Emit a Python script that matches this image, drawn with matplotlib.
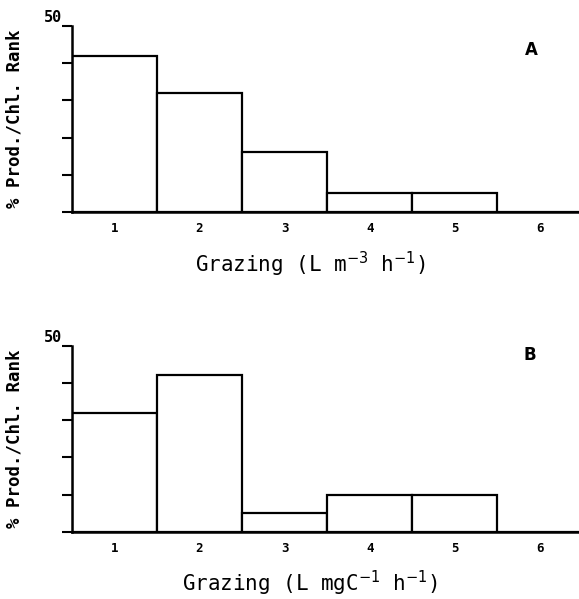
import matplotlib
matplotlib.use("Agg")
import matplotlib.pyplot as plt

categories = [1, 2, 3, 4, 5, 6]
tick_labels = ["1", "2", "3", "4", "5", "6"]
values_a = [42, 32, 16, 5, 5, 0]
values_b = [32, 42, 5, 10, 10, 0]
xlabel_a = "Grazing (L m$^{-3}$ h$^{-1}$)"
xlabel_b = "Grazing (L mgC$^{-1}$ h$^{-1}$)"
ylabel = "% Prod./Chl. Rank"
panel_labels = ["A", "B"]

mono = "DejaVu Sans Mono"
fig = plt.figure(figsize=(5.79, 5.99), dpi=100)
axes_rects = [[0.124, 0.646, 0.876, 0.311], [0.124, 0.112, 0.876, 0.311]]
label_pos = [(0.907, 0.87), (0.903, 0.95)]

for rect, vals, xl, pl, lp in zip(axes_rects, [values_a, values_b], [xlabel_a, xlabel_b],
                                  panel_labels, label_pos):
    ax = fig.add_axes(rect)
    ax.bar(categories, vals, width=1.0, facecolor="white", edgecolor="black", linewidth=1.6)
    ax.set_xlim(0.5, 6.46)
    ax.set_ylim(0, 50)
    for s in ["top", "right"]:
        ax.spines[s].set_visible(False)
    for s in ["left", "bottom"]:
        ax.spines[s].set_linewidth(1.8)
    ax.set_yticks([0, 10, 20, 30, 40, 50])
    ax.set_yticklabels([])
    ax.tick_params(axis="y", direction="out", length=7.5, width=1.5)
    ax.set_xticks(categories)
    ax.set_xticklabels(tick_labels, fontfamily=mono, fontweight="bold", fontsize=9)
    ax.tick_params(axis="x", length=0, pad=7)
    ax.set_xlabel(xl, fontfamily=mono, fontsize=15, labelpad=13)
    ax.xaxis.set_label_coords(0.47, -0.2)
    ax.set_ylabel(ylabel, fontfamily=mono, fontweight="bold", fontsize=12.5, labelpad=24)
    ax.text(-0.02, 1.005, "50", transform=ax.transAxes, ha="right", va="bottom",
            fontfamily=mono, fontweight="bold", fontsize=11)
    ax.text(lp[0], lp[1], pl, transform=ax.transAxes, ha="center", va="center",
            fontfamily="DejaVu Sans", fontweight="bold", fontsize=12)

fig.savefig("out.png", dpi=100)
